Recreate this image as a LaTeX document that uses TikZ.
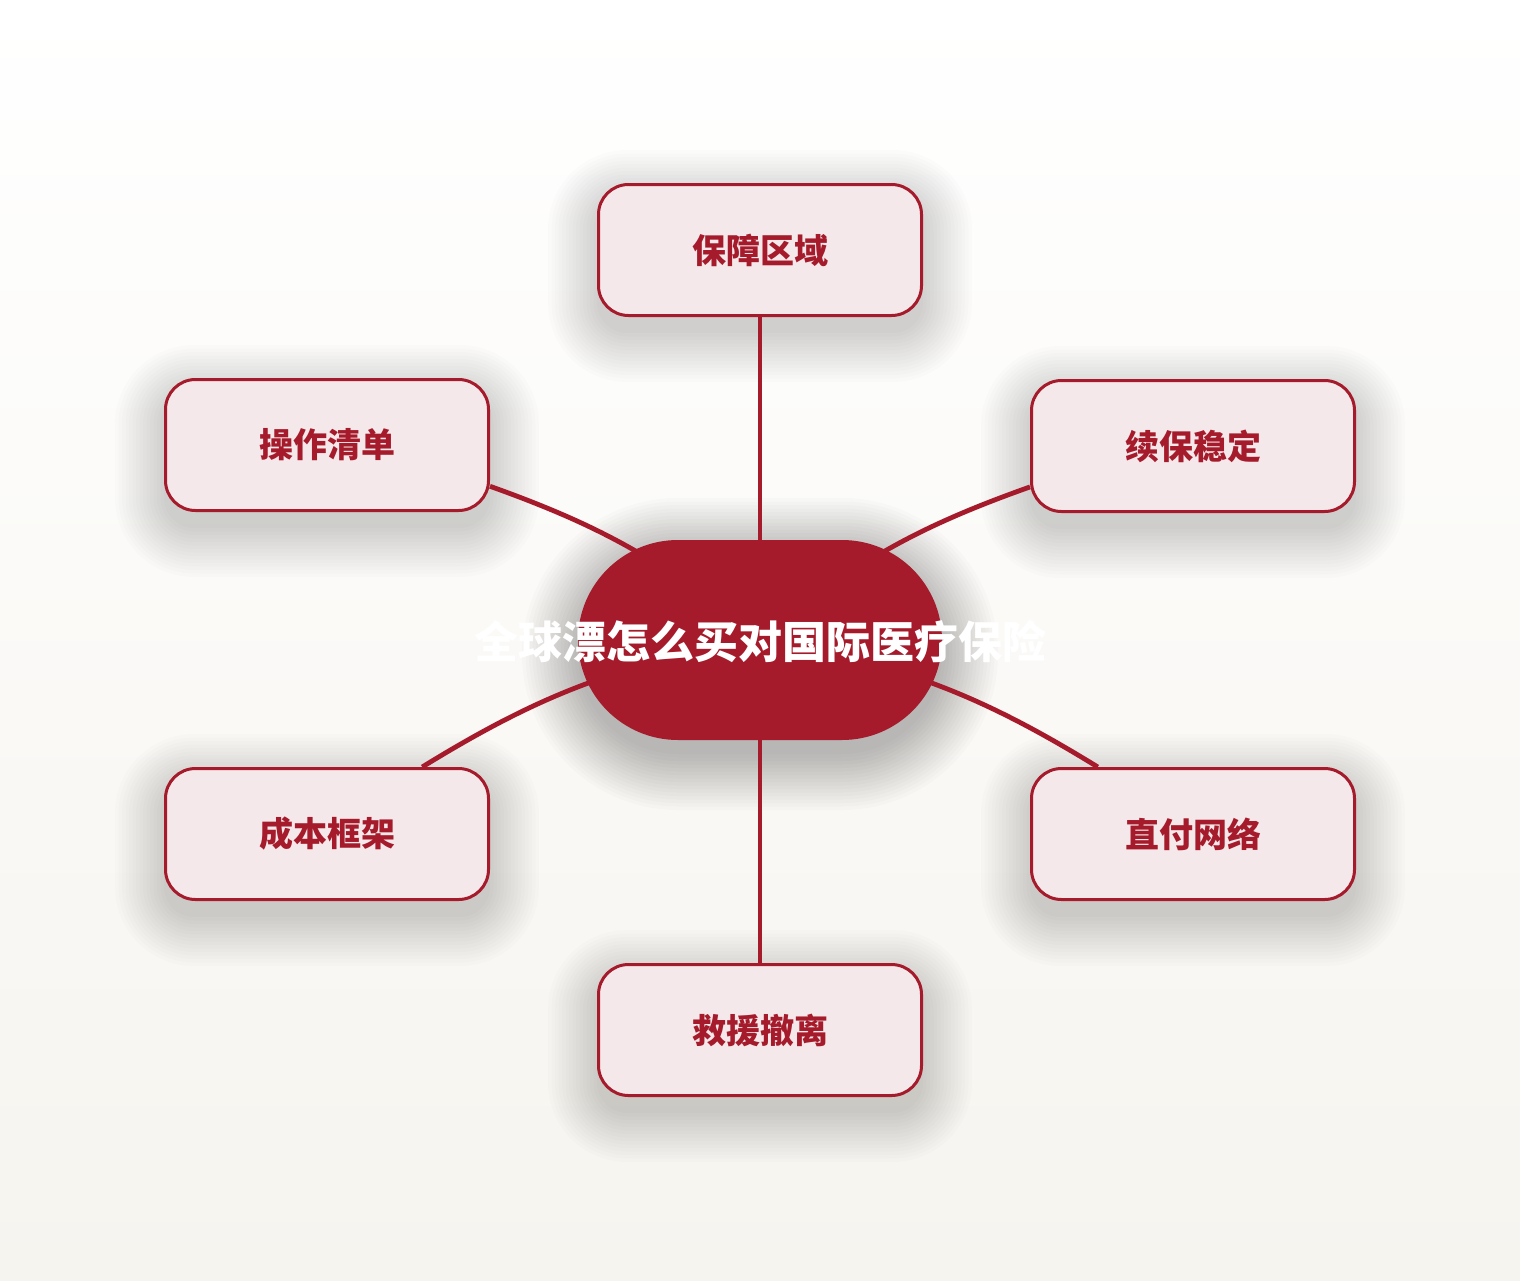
\documentclass[tikz,border=0pt]{standalone}
\usepackage{fontspec}
\newfontfamily\cjk{Noto Sans CJK SC}
\usetikzlibrary{shapes.misc}

\definecolor{brandred}{RGB}{165,27,43}
\definecolor{boxfill}{RGB}{244,232,234}
\definecolor{paperbot}{RGB}{246,244,239}

\pgfdeclarelayer{paper}
\pgfdeclarelayer{shades}
\pgfdeclarelayer{links}
\pgfsetlayers{paper,shades,links,main}

\begin{document}
\begin{tikzpicture}[
    x=1pt, y=-1pt,
    hub_style/.style={rounded rectangle, fill=brandred, minimum width=364pt, minimum height=200pt, inner sep=0pt},
    hub_label/.style={text=white, font=\cjk\bfseries\fontsize{44}{50}\selectfont},
    topic_style/.style={rectangle, rounded corners=30pt, draw=brandred, line width=3pt, fill=boxfill,
        minimum width=323pt, minimum height=131pt, inner sep=0pt, text=brandred,
        font=\cjk\bfseries\fontsize{34}{40}\selectfont},
    shade_style/.style={black, fill opacity=0.011},
    link_style/.style={brandred, line width=4.8pt}
]

    % Page
    \useasboundingbox (0,0) rectangle (1520,1280);
    \begin{pgfonlayer}{paper}
        \shade[top color=white, bottom color=paperbot] (0,0) rectangle (1520,1280);
    \end{pgfonlayer}

    % Centre
    \node[hub_style] (hub) at (760,640) {};

    % Topics
    \node[topic_style] (cover) at (760,250) {保障区域};
    \node[topic_style] (checklist) at (327,445) {操作清单};
    \node[topic_style] (renewal) at (1193,446) {续保稳定};
    \node[topic_style] (cost) at (327,834) {成本框架};
    \node[topic_style] (direct) at (1193,834) {直付网络};
    \node[topic_style] (rescue) at (760,1030) {救援撤离};

    % Title on top of everything
    \node[hub_label] (hub_text) at (760,642) {全球漂怎么买对国际医疗保险};

    % Soft shadows
    \begin{pgfonlayer}{shades}
        \foreach \n in {cover, checklist, renewal, cost, direct, rescue}
            \foreach \k in {0,...,14}
                \fill[shade_style, rounded corners=30+3.5*\k]
                    ([shift={(-3.5*\k,-3.5*\k+16)}]\n.north west) rectangle ([shift={(3.5*\k,3.5*\k+16)}]\n.south east);
        \foreach \k in {0,...,16}
            \fill[shade_style, fill opacity=0.014, rounded corners=100+3.5*\k]
                ([shift={(-182-3.5*\k,-100-3.5*\k+14)}]hub.center) rectangle ([shift={(182+3.5*\k,100+3.5*\k+14)}]hub.center);
    \end{pgfonlayer}

    % Links
    \begin{pgfonlayer}{links}
        \draw[link_style] (hub.center) -- (cover);
        \draw[link_style] (hub.center) to[bend right=10] (checklist);
        \draw[link_style] (hub.center) to[bend left=10] (renewal);
        \draw[link_style] (hub.center) to[bend right=11] (cost);
        \draw[link_style] (hub.center) to[bend left=11] (direct);
        \draw[link_style] (hub.center) -- (rescue);
    \end{pgfonlayer}

\end{tikzpicture}
\end{document}
